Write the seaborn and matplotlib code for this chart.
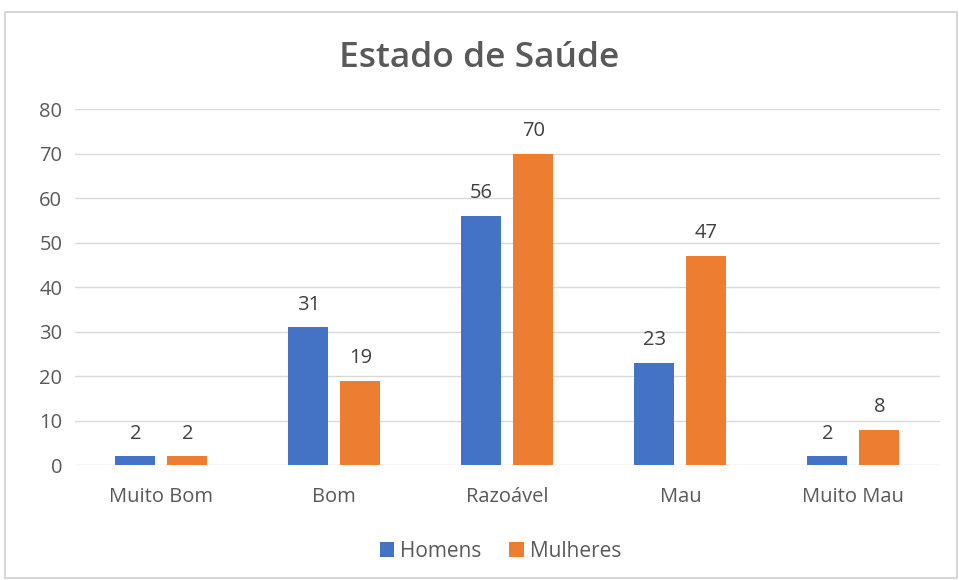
import pandas as pd
import matplotlib.pyplot as plt
import seaborn as sns
from matplotlib.patches import Rectangle

# Dados do gráfico
categorias = ["Muito Bom", "Bom", "Razoável", "Mau", "Muito Mau"]
homens = [2, 31, 56, 23, 2]
mulheres = [2, 19, 70, 47, 8]

df = pd.DataFrame({
    "Estado": categorias * 2,
    "Valor": homens + mulheres,
    "Sexo": ["Homens"] * len(categorias) + ["Mulheres"] * len(categorias),
})

sns.set_theme(style="white")
plt.rcParams['font.family'] = ['Open Sans', 'DejaVu Sans']

fig = plt.figure(figsize=(9.59, 5.80), dpi=100)
ax = fig.add_axes([0.078, 0.198, 0.902, 0.614])

sns.barplot(data=df, x="Estado", y="Valor", hue="Sexo", order=categorias,
            palette={"Homens": "#4472C4", "Mulheres": "#ED7D31"},
            width=0.6, gap=0.23, saturation=1, linewidth=0, ax=ax, legend=True)

for cont in ax.containers:
    ax.bar_label(cont, padding=9, fontsize=14.5, color="#404040")

ax.set_ylim(0, 80)
ax.set_yticks(range(0, 81, 10))
ax.set_xlim(-0.5, 4.5)
ax.yaxis.grid(True, color="#D9D9D9", linewidth=1)
ax.set_axisbelow(True)
for s in ax.spines.values():
    s.set_visible(False)
ax.tick_params(axis="both", length=0, labelsize=14.5, labelcolor="#595959")
ax.tick_params(axis="y", pad=9)
ax.tick_params(axis="x", pad=16)
ax.set_xlabel("")
ax.set_ylabel("")

fig.suptitle("Estado de Saúde", x=0.5, y=0.93, fontsize=25.5, fontweight="semibold",
             color="#595959")

leg = ax.legend(loc="upper center", bbox_to_anchor=(0.492, -0.16), ncol=2, frameon=False,
                fontsize=15, handlelength=0.7, handleheight=0.7, columnspacing=1.3,
                handletextpad=0.3)
for t in leg.get_texts():
    t.set_color("#595959")

fig.patches.append(Rectangle((0.005, 0.003), 0.993, 0.976, transform=fig.transFigure,
                             fill=False, edgecolor="#D0D0D0", linewidth=1.2))

plt.savefig("out.png", dpi=100)
